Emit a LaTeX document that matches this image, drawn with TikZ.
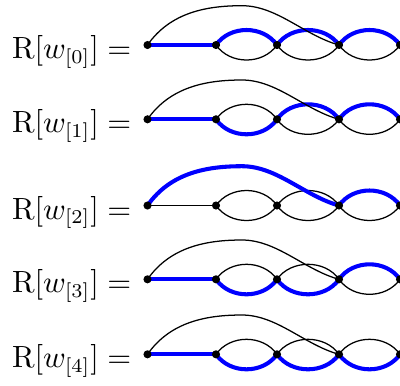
\documentclass[tikz,border=0pt]{standalone}
\begin{document}
\begin{tikzpicture}[x=0.357pt,y=-0.357pt,
  plain/.style={draw=black,line width=0.45pt},
  hot/.style={draw=blue,line width=1.45pt},
  dot/.style={circle,fill=black,inner sep=0pt,minimum size=2.9pt},
  lbl/.style={anchor=base west,inner sep=0pt,font=\fontsize{10.5}{13}\selectfont}]
\useasboundingbox (0,0) rectangle (400,385);
\foreach \i/\y/\sa/\sb/\sc/\sd/\se/\sf/\sg/\sh in {
  0/45/hot/hot/plain/hot/plain/hot/plain/plain,
  1/119.3/hot/plain/hot/hot/plain/hot/plain/plain,
  2/205.5/plain/plain/plain/plain/plain/hot/plain/hot,
  3/279.3/hot/plain/hot/plain/hot/hot/plain/plain,
  4/354.3/hot/plain/hot/plain/hot/plain/hot/plain}{
  \coordinate (v\i0) at (147.5,\y);
  \coordinate (v\i1) at (216,\y);
  \coordinate (v\i2) at (277,\y);
  \coordinate (v\i3) at (339,\y);
  \coordinate (v\i4) at (400,\y);
  \coordinate (p\i) at (242,\y-39.3);
  \path[\sa] (v\i0) -- (v\i1);
  \path[\sb] (v\i1) .. controls +(14,-20) and +(-14,-20) .. (v\i2);
  \path[\sc] (v\i1) .. controls +(14,20) and +(-14,20) .. (v\i2);
  \path[\sd] (v\i2) .. controls +(14,-20) and +(-14,-20) .. (v\i3);
  \path[\se] (v\i2) .. controls +(14,20) and +(-14,20) .. (v\i3);
  \path[\sf] (v\i3) .. controls +(14,-20) and +(-14,-20) .. (v\i4);
  \path[\sg] (v\i3) .. controls +(14,20) and +(-14,20) .. (v\i4);
  \path[\sh] (v\i0) .. controls +(22.9,-32.8) and +(-35,0) .. (p\i)
                    .. controls +(35,0) and +(-34.5,-9.5) .. (v\i3);
  \foreach \k in {0,...,4} \node[dot] (d\i\k) at (v\i\k) {};
  \node[lbl] (t\i) at (11.5,\y+13.5) {$\mathrm{R}[w_{[\i]}] =$};
}
\end{tikzpicture}
\end{document}
